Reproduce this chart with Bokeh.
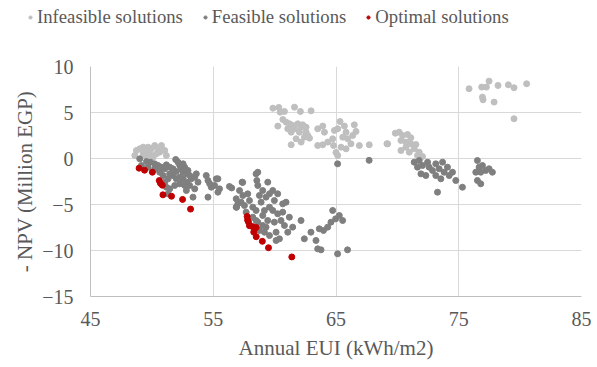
from bokeh.plotting import figure
from bokeh.layouts import column, row
from bokeh.models import Range1d, FixedTicker, Legend, LegendItem
from bokeh.embed import file_html
from bokeh.resources import INLINE

# ---- data ----
infeasible_x = [48.74, 49.01, 49.29, 49.56, 49.69, 49.96, 50.23, 50.50, 50.64, 50.78, 51.05, 51.18, 50.37, 49.83, 49.29, 48.61, 50.10, 49.56,
                59.86, 60.34, 60.45, 60.80, 61.62, 62.10, 62.97, 60.26, 60.67, 60.94, 61.21, 61.48, 61.62, 61.89, 62.16, 62.29, 62.56, 62.56,
                62.43, 62.84, 61.75, 61.35, 62.16, 63.51, 63.92, 64.06, 63.51, 63.92, 64.33, 64.87, 65.14, 65.33, 65.68, 65.82, 65.55, 65.95,
                66.36, 66.63, 66.49, 66.22, 64.80, 65.41, 65.82, 65.14, 66.90, 67.71, 69.15, 64.73, 61.07, 61.35, 62.02, 62.70, 65.00,
                69.21, 69.83, 70.15, 70.43, 70.83, 71.10, 70.29, 70.70, 71.10, 71.51, 70.29, 70.97, 71.37, 70.70, 71.64, 72.05, 71.78,
                75.84, 76.87, 77.25, 77.47, 78.20, 79.04, 79.50, 80.53, 76.93, 76.98, 77.88, 79.50]
infeasible_y = [0.87, 1.05, 1.23, 0.87, 1.23, 1.05, 1.41, 1.05, 0.69, 1.41, 0.87, 0.33, 0.51, 0.51, 0.51, 0.33, 0.14, 0.14,
                5.47, 5.55, 5.04, 5.11, 5.58, 5.11, 5.18, 3.52, 4.24, 3.95, 3.77, 3.59, 3.23, 3.77, 3.41, 3.66, 3.41, 2.86,
                2.32, 2.21, 2.14, 1.49, 1.78, 3.23, 3.52, 2.86, 1.41, 1.49, 1.78, 3.05, 3.23, 4.02, 3.52, 2.86, 2.32, 2.14,
                2.50, 2.94, 3.66, 1.60, 1.41, 1.23, 1.05, 0.33, 1.41, 1.49, 1.60, 2.14, 3.23, 2.86, 2.86, 2.50, 0.65,
                1.59, 2.75, 2.86, 2.50, 2.61, 2.25, 1.96, 1.78, 1.59, 1.52, 0.87, 0.69, 1.05, 1.23, 0.33, 0.22, 0.69,
                7.58, 7.76, 7.76, 8.41, 7.94, 8.01, 7.69, 8.12, 6.67, 6.38, 6.13, 4.32]

feasible_x = [49.01, 49.56, 49.88, 50.23, 50.50, 50.78, 51.05, 51.18, 51.45, 51.72, 51.94, 51.99, 52.27, 52.40, 52.54, 52.67, 52.81, 52.94,
              53.08, 52.54, 52.27, 51.99, 51.72, 51.45, 51.32, 51.05, 51.18, 51.45, 51.32, 51.86, 52.27, 52.67, 52.81, 53.21, 53.49,
              53.62, 53.76, 53.49, 53.35, 54.43, 54.57, 54.71, 54.84, 55.11, 55.25, 55.38, 54.57, 52.81, 53.08, 50.23, 50.64, 50.91,
              49.69, 49.15, 52.13, 52.54,
              55.38, 55.51, 56.32, 57.35, 58.49, 58.63, 58.55, 58.63, 59.44, 57.14, 57.81, 56.87, 57.27, 56.87, 57.54, 57.95, 58.22,
              58.49, 58.76, 58.90, 59.03, 59.30, 59.85, 60.25, 59.98, 59.58, 59.17, 59.85, 60.25, 60.66, 60.93, 60.52, 60.80, 61.20,
              61.47, 61.07, 60.12, 59.58, 59.30, 59.03, 59.17, 58.76, 58.63, 58.22, 58.49, 59.98, 59.44, 60.39, 60.12, 62.15, 62.42,
              62.96, 63.37, 63.64, 63.98, 64.32, 64.59, 64.73, 64.97, 65.27, 65.54, 63.51, 63.78, 65.13, 65.94, 65.13, 57.41, 57.00,
              57.68, 59.03, 60.66, 59.58, 56.50, 57.40, 56.90, 67.70,
              71.37, 71.78, 71.64, 72.05, 72.46, 72.59, 72.86, 73.13, 73.40, 73.68, 73.81, 74.08, 74.22, 74.49, 71.92, 72.32, 73.13,
              73.54, 74.76, 75.30, 73.27, 76.52, 76.66, 76.93, 77.20, 76.79, 76.39, 76.52, 76.79, 77.47, 77.74]
feasible_y = [-0.04, -0.33, -0.40, -0.58, -0.76, -0.94, -1.12, -0.69, -0.94, -1.12, -0.11, -1.41, -0.76, -1.12, -1.49, -0.94, -1.67, -1.30,
              -1.85, -2.21, -2.03, -2.21, -1.85, -1.67, -2.21, -2.57, -3.12, -3.30, -3.84, -2.93, -2.75, -2.93, -2.57, -2.21, -2.03,
              -1.67, -2.57, -3.30, -4.20, -1.85, -2.39, -2.75, -3.12, -2.93, -2.21, -3.66, -4.20, -3.48, -2.93, -1.12, -1.49, -1.85,
              -0.94, -0.76, -0.40, -0.58,
              -2.21, -3.30, -3.04, -2.57, -1.67, -1.49, -2.39, -2.93, -2.57, -3.48, -3.84, -4.38, -4.75, -5.29, -5.11, -4.57, -5.29,
              -5.65, -4.02, -4.75, -3.48, -4.20, -3.48, -3.84, -4.57, -5.29, -5.65, -5.65, -6.01, -4.93, -4.75, -6.74, -7.28, -6.38,
              -7.46, -8.01, -8.01, -8.37, -7.46, -7.28, -8.01, -7.82, -6.92, -6.38, -6.74, -6.92, -6.74, -8.73, -8.91, -6.74, -8.73,
              -8.01, -8.91, -7.64, -7.82, -7.46, -6.92, -5.65, -6.56, -6.20, -6.74, -9.82, -9.93, -10.36, -9.93, -0.58, -4.02, -4.93,
              -5.83, -6.20, -5.83, -3.84, -3.20, -2.60, -5.30, -0.20,
              -0.40, -0.22, -0.94, -0.76, -0.40, -0.94, -1.30, -0.58, -1.12, -0.40, -1.49, -0.94, -1.85, -1.49, -1.67, -1.85, -1.85,
              -2.21, -2.39, -3.12, -3.66, -0.22, -0.94, -0.76, -1.30, -1.49, -1.49, -2.39, -2.75, -1.12, -1.49]

optimal_x = [48.96, 49.40, 50.04, 50.60, 50.70, 50.85, 50.90, 51.60, 52.50, 53.15,
             57.76, 57.80, 57.87, 57.95, 58.20, 58.50, 58.30, 58.50, 59.00, 59.50, 61.40]
optimal_y = [-1.05, -1.27, -1.49, -2.40, -2.70, -2.90, -3.95, -4.10, -4.45, -5.50,
             -6.30, -6.70, -6.90, -7.30, -7.40, -7.50, -8.00, -8.50, -9.00, -9.70, -10.70]

series_names = ["Infeasible solutions", "Feasible solutions", "Optimal solutions"]
series_colors = ["#bfbfbf", "#7f7f7f", "#c00000"]
x_ticks = [45, 55, 65, 75, 85]
y_ticks = [-15, -10, -5, 0, 5, 10]
series_x = [infeasible_x, feasible_x, optimal_x]
series_y = [infeasible_y, feasible_y, optimal_y]

FONT = "Liberation Serif"
TXT = "#595959"

# ---- legend strip (top): its ranges lie outside the data, so only the key shows ----
leg = figure(width=597, height=44, output_backend="svg", toolbar_location=None,
             x_range=Range1d(0, 1), y_range=Range1d(0, 1),
             x_axis_location=None, y_axis_location=None,
             min_border_left=0, min_border_right=0, min_border_top=0, min_border_bottom=0)
leg.grid.visible = False
leg.outline_line_color = None
leg_renderers = [leg.scatter(sx, sy, size=5, color=c) for sx, sy, c in zip(series_x, series_y, series_colors)]
legend = Legend(items=[LegendItem(label=n, renderers=[r]) for n, r in zip(series_names, leg_renderers)],
                orientation="horizontal", location=(26, 16),
                label_text_font=FONT, label_text_font_size="18.7px", label_text_color=TXT,
                label_height=22, glyph_width=8, glyph_height=8, label_standoff=3, spacing=18,
                padding=0, margin=0, border_line_color=None, background_fill_alpha=0)
leg.add_layout(legend, "center")

# ---- main scatter chart ----
p = figure(width=597, height=323, output_backend="svg", toolbar_location=None,
           x_range=Range1d(45, 85), y_range=Range1d(-15, 10),
           min_border_left=90, min_border_right=16, min_border_top=22, min_border_bottom=71)
p.outline_line_color = None
p.background_fill_color = "white"

for sx, sy, c in zip(series_x, series_y, series_colors):
    p.scatter(sx, sy, size=6, color=c)

p.xaxis.ticker = FixedTicker(ticks=x_ticks)
p.yaxis.ticker = FixedTicker(ticks=y_ticks)
p.xaxis.axis_label = "Annual EUI (kWh/m2)"
p.yaxis.axis_label = "- NPV (Million EGP)"
for ax in (p.xaxis[0], p.yaxis[0]):
    ax.axis_line_color = "#bfbfbf"
    ax.major_tick_line_color = None
    ax.minor_tick_line_color = None
    ax.major_label_text_font = FONT
    ax.major_label_text_font_size = "20px"
    ax.major_label_text_color = TXT
    ax.axis_label_text_font = FONT
    ax.axis_label_text_font_size = "21px"
    ax.axis_label_text_font_style = "normal"
    ax.axis_label_text_color = TXT
p.xaxis.major_label_standoff = 9
p.xaxis.axis_label_standoff = 7
p.yaxis.major_label_standoff = 11
p.yaxis.axis_label_standoff = 2
p.xgrid.grid_line_color = "#d9d9d9"
p.ygrid.grid_line_color = "#d9d9d9"

layout = column(row(leg), p, spacing=0)
open("out.html", "w").write(file_html(layout, INLINE))
